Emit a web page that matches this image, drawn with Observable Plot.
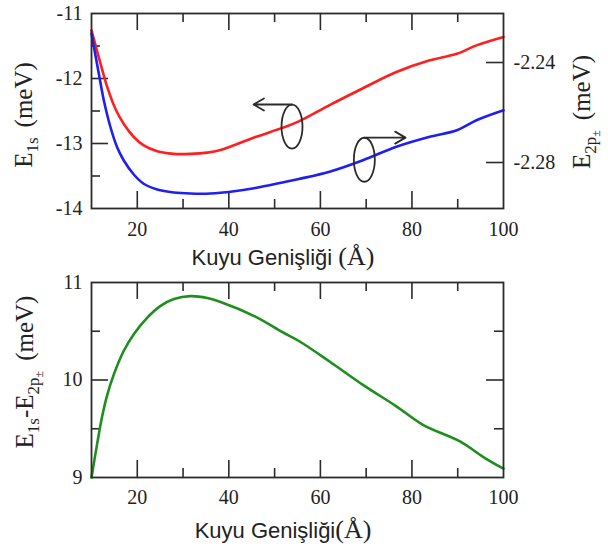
<!DOCTYPE html>
<html><head><meta charset="utf-8">
<script src="https://cdn.jsdelivr.net/npm/d3@7"></script>
<script src="https://cdn.jsdelivr.net/npm/@observablehq/plot@0.6"></script>
<style>
body{margin:0;background:#fff;}
#wrap{width:608px;height:549px;overflow:hidden;}
.xl{width:608px;box-sizing:border-box;padding-right:42px;text-align:center;font-family:"Liberation Sans",Arial,sans-serif;font-size:22px;color:#222;white-space:nowrap;}
.xl .s{font-family:"Liberation Serif","Times New Roman",serif;font-size:26px;}
svg{display:block;}
</style></head><body><div id="wrap"></div><script>
// ---------- data ----------
const xE1s = [10, 11.97, 13.43, 15.24, 17.06, 19.24, 21.42, 24.35, 27.98, 31.6, 35.27, 38.18, 45.8, 51.7, 55.3, 62.0, 69.3, 76.6, 83.9, 89.8, 94.1, 100];
const e1s  = [-11.26, -11.77, -12.13, -12.47, -12.70, -12.90, -13.03, -13.12, -13.16, -13.16, -13.14, -13.10, -12.90, -12.76, -12.66, -12.41, -12.15, -11.90, -11.72, -11.62, -11.49, -11.36];

const xE2p = [10, 11.6, 12.7, 14.15, 15.6, 17.06, 19.24, 21.4, 24.35, 27.98, 31.6, 36.0, 40.8, 45.8, 51.7, 55.3, 62.0, 69.3, 76.6, 83.9, 89.8, 94.1, 100];
const e2p  = [-2.2284, -2.2445, -2.2552, -2.2659, -2.2739, -2.2792, -2.2848, -2.2885, -2.2908, -2.2920, -2.2924, -2.2924, -2.2916, -2.2902, -2.2880, -2.2866, -2.2837, -2.2791, -2.2737, -2.2697, -2.2671, -2.2631, -2.2591];

const xDiff = [10, 11.25, 12.3, 13.4, 14.9, 17.06, 19.24, 22.2, 25.1, 28.0, 31.6, 35.3, 38.2, 45.8, 51.7, 55.3, 62.0, 69.3, 76.6, 82.4, 90.5, 95.6, 100];
const diff  = [9.0, 9.35, 9.62, 9.84, 10.06, 10.30, 10.47, 10.64, 10.76, 10.83, 10.86, 10.84, 10.80, 10.65, 10.49, 10.40, 10.19, 9.95, 9.73, 9.54, 9.37, 9.21, 9.09];

const xTickLabels = [20, 40, 60, 80, 100];
const xMajor = [20, 40, 60, 80];
const xMinor = [30, 50, 70, 90];
const topLeftLabels = [-11, -12, -13, -14];
const topLeftMajor = [-12, -13];
const topLeftMinor = [-11.5, -12.5, -13.5];
const topRightLabels = [-2.24, -2.28];
const botLabels = [9, 10, 11];
const botMajor = [10];
const botMinor = [9.5, 10.5];

// annotation (ellipse + arrow) positions in data units of the left axis
const annX = [53.8, 69.6];
const annY = [-12.74, -13.25];
const arrowY = [-12.40, -12.91];
const arrowTipX = [45.4, 78.6];

// right axis (E2p) mapped onto left axis units
const toLeft = r => -11.754 + (r + 2.24) * 38.46;

// ---------- styling ----------
const serif = '"Liberation Serif","Times New Roman",serif';
const ink = "#2b2b2b";
const W = 608, ML = 91, MR = 105;
const MAJ = 17, MIN = 9;
const X0 = 10, X1 = 100;

const ellipseSymbol = {
  draw(ctx) {
    const rx = 10.5, ry = 22, k = 0.5523;
    ctx.moveTo(rx, 0);
    ctx.bezierCurveTo(rx, ry * k, rx * k, ry, 0, ry);
    ctx.bezierCurveTo(-rx * k, ry, -rx, ry * k, -rx, 0);
    ctx.bezierCurveTo(-rx, -ry * k, -rx * k, -ry, 0, -ry);
    ctx.bezierCurveTo(rx * k, -ry, rx, -ry * k, rx, 0);
    ctx.closePath();
  }
};

// inward ticks on all four sides of the frame
function tickMarks(yLo, yHi, leftMajor, leftMinor, rightMajor, rightMinor) {
  const o = {stroke: ink, strokeWidth: 1.6};
  const bx = (vals, len) => Plot.ruleX(vals, {...o, x: d => d, y1: yLo, y2: yLo, insetTop: -len});
  const tx = (vals, len) => Plot.ruleX(vals, {...o, x: d => d, y1: yHi, y2: yHi, insetBottom: -len});
  const ly = (vals, len) => Plot.ruleY(vals, {...o, y: d => d, x1: X0, x2: X0, insetRight: -len});
  const rt = (vals, len) => Plot.ruleY(vals, {...o, y: d => d, x1: X1, x2: X1, insetLeft: -len});
  return [
    bx(xMajor, MAJ), tx(xMajor, MAJ), bx(xMinor, MIN), tx(xMinor, MIN),
    ly(leftMajor, MAJ), ly(leftMinor, MIN), rt(rightMajor, MAJ), rt(rightMinor, MIN)
  ];
}

function addYTitle(svg, x, y, parts) {
  const t = d3.select(svg).append("text")
    .attr("transform", `translate(${x},${y}) rotate(-90)`)
    .attr("text-anchor", "middle")
    .attr("font-family", serif)
    .attr("font-size", 25)
    .attr("fill", "#222");
  for (const p of parts) {
    t.append("tspan").attr("dy", p.dy || 0).attr("dx", p.dx || 0)
      .attr("font-size", p.size || 25).text(p.t);
  }
}

const wrap = document.getElementById("wrap");

// ---------- top chart ----------
const topH = 243, topMT = 13, topMB = 35;
const topChart = Plot.plot({
  width: W, height: topH,
  marginLeft: ML, marginRight: MR, marginTop: topMT, marginBottom: topMB,
  x: {domain: [X0, X1], axis: null},
  y: {domain: [-14, -11], axis: null},
  style: {fontFamily: serif, fontSize: "20px", color: "#222", background: "white"},
  marks: [
    ...tickMarks(-14, -11, topLeftMajor, topLeftMinor, topRightLabels.map(toLeft), []),
    Plot.line(xE1s.map((x, i) => ({x, y: e1s[i]})), {x: "x", y: "y", stroke: "#ff1f1f", strokeWidth: 2.6, curve: "catmull-rom"}),
    Plot.line(xE2p.map((x, i) => ({x, y: toLeft(e2p[i])})), {x: "x", y: "y", stroke: "#1f1fee", strokeWidth: 2.6, curve: "catmull-rom"}),
    Plot.dot(annX.map((x, i) => ({x, y: annY[i]})), {x: "x", y: "y", symbol: ellipseSymbol, r: 5, fill: "none", stroke: ink, strokeWidth: 1.8}),
    Plot.arrow(annX.map((x, i) => ({x1: x, x2: arrowTipX[i], y: arrowY[i]})), {x1: "x1", x2: "x2", y1: "y", y2: "y", stroke: ink, strokeWidth: 1.8, headLength: 10}),
    Plot.frame({stroke: ink, strokeWidth: 1.8}),
    Plot.text(xTickLabels, {x: d => d, frameAnchor: "bottom", dy: 21.5, lineAnchor: "middle", fontSize: 20, fill: "#222", text: d => String(d)}),
    Plot.text(topLeftLabels, {y: d => d, frameAnchor: "left", dx: -9, textAnchor: "end", lineAnchor: "middle", fontSize: 20, fill: "#222", text: d => String(d)}),
    Plot.text(topRightLabels, {y: d => toLeft(d), frameAnchor: "right", dx: 10, textAnchor: "start", lineAnchor: "middle", fontSize: 20, fill: "#222", text: d => d.toFixed(2)})
  ]
});
addYTitle(topChart, 32, 115, [{t: "E"}, {t: "1s", dy: 6, size: 17}, {t: "(meV)", dy: -6, dx: 10}]);
addYTitle(topChart, 590, 112, [{t: "E"}, {t: "2p", dy: 6, size: 17}, {t: "±", dy: 4, size: 12}, {t: "(meV)", dy: -10, dx: 10}]);
wrap.appendChild(topChart);

const lab1 = document.createElement("div");
lab1.className = "xl";
lab1.style.height = "27px"; lab1.style.lineHeight = "27px";
lab1.innerHTML = 'Kuyu Genişliği <span class="s">(Å)</span>';
wrap.appendChild(lab1);

// ---------- bottom chart ----------
const botH = 245, botMT = 12, botMB = 38;
const botChart = Plot.plot({
  width: W, height: botH,
  marginLeft: ML, marginRight: MR, marginTop: botMT, marginBottom: botMB,
  x: {domain: [X0, X1], axis: null},
  y: {domain: [9, 11], axis: null},
  style: {fontFamily: serif, fontSize: "20px", color: "#222", background: "white"},
  marks: [
    ...tickMarks(9, 11, botMajor, botMinor, botMajor, botMinor),
    Plot.line(xDiff.map((x, i) => ({x, y: diff[i]})), {x: "x", y: "y", stroke: "#1e8f1e", strokeWidth: 2.6, curve: "catmull-rom"}),
    Plot.frame({stroke: ink, strokeWidth: 1.8}),
    Plot.text(xTickLabels, {x: d => d, frameAnchor: "bottom", dy: 20.5, lineAnchor: "middle", fontSize: 20, fill: "#222", text: d => String(d)}),
    Plot.text(botLabels, {y: d => d, frameAnchor: "left", dx: -9, textAnchor: "end", lineAnchor: "middle", fontSize: 20, fill: "#222", text: d => String(d)})
  ]
});
addYTitle(botChart, 33, 102, [{t: "E"}, {t: "1s", dy: 6, size: 17}, {t: "-E", dy: -6}, {t: "2p", dy: 6, size: 17}, {t: "±", dy: 4, size: 12}, {t: "(meV)", dy: -10, dx: 10}]);
wrap.appendChild(botChart);

const lab2 = document.createElement("div");
lab2.className = "xl";
lab2.style.height = "30px"; lab2.style.lineHeight = "30px";
lab2.innerHTML = 'Kuyu Genişliği<span class="s">(Å)</span>';
wrap.appendChild(lab2);
</script></body></html>
